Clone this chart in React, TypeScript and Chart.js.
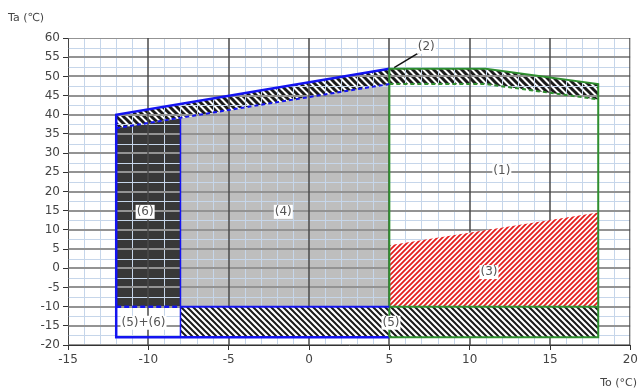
import { useEffect, useRef } from "react";
import { Chart, registerables } from "chart.js";

Chart.register(...registerables);

// Axis ranges / ticks
const xMin = -15, xMax = 20, xStep = 5, xMinorStep = 1;
const yMin = -20, yMax = 60, yStep = 5, yMinorStep = 2.5;

// Upper boundary (solid) and lower dashed boundary of zone (2)
const topX = [-12, 5, 11, 18];
const topY = [40, 52, 52, 48];
const lowX = [-12, 5, 11, 18];
const lowY = [36.5, 48, 48, 44];

// Zone (6): dark area
const zone6X = [-12, -12, -8, -8];
const zone6Y = [-10, 36.5, 39, -10];
// Zone (4): grey area
const zone4X = [-8, -8, 5, 5];
const zone4Y = [-10, 39, 48, -10];
// Zone (3): red hatched
const zone3X = [5, 5, 18, 18];
const zone3Y = [-10, 6, 14.5, -10];
// Zone (5): black hatched bottom band
const zone5X = [-8, -8, 18, 18];
const zone5Y = [-18, -10, -10, -18];

// Outlines
const blueOutlineX = [5, -12, -12, 5];
const blueOutlineY = [52, 40, -18, -18];
const blueMidX = [-8, 5];
const blueMidY = [-10, -10];
const blueDashBoxX = [-12, -8];
const blueDashBoxY = [-10, -10];
const blueVertX = [-8, -8];
const blueVertY = [-18, 39];
const greenOutlineX = [5, 5, 11, 18, 18, 5];
const greenOutlineY = [-18, 52, 52, 48, -18, -18];
const greenMidX = [5, 18];
const greenMidY = [-10, -10];
const arrowX = [6.9, 5.3];
const arrowY = [56.3, 52.3];

// Zone labels
const labelText = ["(1)", "(2)", "(3)", "(4)", "(6)", "(5)+(6)", "(5)"];
const labelX = [12, 7.3, 11.2, -1.6, -10.2, -10.3, 5.1];
const labelY = [25.5, 57.7, -1, 14.7, 14.7, -14.2, -14.2];

const zip = (xs: number[], ys: number[]) => xs.map((x, i) => ({ x, y: ys[i] }));

function hatch(fg: string, bg: string, size: number, lw: number, dir: "\\" | "/") {
  const c = document.createElement("canvas");
  c.width = size;
  c.height = size;
  const g = c.getContext("2d")!;
  g.fillStyle = bg;
  g.fillRect(0, 0, size, size);
  g.strokeStyle = fg;
  g.lineWidth = lw;
  g.beginPath();
  for (let k = -1; k <= 1; k++) {
    if (dir === "\\") {
      g.moveTo(k * size - 1, -1);
      g.lineTo(k * size + size + 1, size + 1);
    } else {
      g.moveTo(k * size - 1, size + 1);
      g.lineTo(k * size + size + 1, -1);
    }
  }
  g.stroke();
  return g.createPattern(c, "repeat")!;
}

function drawGrid(chart: any) {
  const { ctx, chartArea: a, scales } = chart;
  const xs = scales.x, ys = scales.y;
  ctx.save();
  ctx.beginPath();
  ctx.rect(a.left, a.top, a.right - a.left, a.bottom - a.top);
  ctx.clip();
  // minor
  ctx.strokeStyle = "#c6d6ea";
  ctx.lineWidth = 1;
  ctx.beginPath();
  for (let v = xMin; v <= xMax + 1e-9; v += xMinorStep) {
    if (Math.abs(v % xStep) < 1e-9) continue;
    const p = Math.round(xs.getPixelForValue(v)) + 0.5;
    ctx.moveTo(p, a.top);
    ctx.lineTo(p, a.bottom);
  }
  for (let v = yMin; v <= yMax + 1e-9; v += yMinorStep) {
    if (Math.abs(v % yStep) < 1e-9) continue;
    const p = Math.round(ys.getPixelForValue(v)) + 0.5;
    ctx.moveTo(a.left, p);
    ctx.lineTo(a.right, p);
  }
  ctx.stroke();
  // major horizontal
  ctx.strokeStyle = "#939393";
  ctx.lineWidth = 2;
  ctx.beginPath();
  for (let v = yMin; v <= yMax + 1e-9; v += yStep) {
    const p = Math.round(ys.getPixelForValue(v));
    ctx.moveTo(a.left, p);
    ctx.lineTo(a.right, p);
  }
  ctx.stroke();
  // major vertical
  ctx.strokeStyle = "#4a4a4a";
  ctx.lineWidth = 1.5;
  ctx.beginPath();
  for (let v = xMin; v <= xMax + 1e-9; v += xStep) {
    const p = Math.round(xs.getPixelForValue(v));
    ctx.moveTo(p, a.top);
    ctx.lineTo(p, a.bottom);
  }
  ctx.stroke();
  ctx.restore();
}

const gridPlugin = {
  id: "customGrid",
  beforeDatasetsDraw(chart: any) {
    chart.$gridDone = false;
  },
  beforeDatasetDraw(chart: any, args: any) {
    const ds: any = chart.data.datasets[args.index];
    if (ds.overGrid && !chart.$gridDone) {
      drawGrid(chart);
      chart.$gridDone = true;
    }
  },
  afterDatasetsDraw(chart: any) {
    if (!chart.$gridDone) drawGrid(chart);
  },
  afterDraw(chart: any) {
    const { ctx, scales } = chart;
    ctx.save();
    ctx.font = "12px 'DejaVu Sans', sans-serif";
    ctx.textAlign = "center";
    ctx.textBaseline = "middle";
    labelText.forEach((t, i) => {
      const px = scales.x.getPixelForValue(labelX[i]);
      const py = scales.y.getPixelForValue(labelY[i]);
      const w = ctx.measureText(t).width;
      ctx.fillStyle = "#ffffff";
      ctx.fillRect(px - w / 2 - 1, py - 7, w + 2, 14);
      ctx.fillStyle = "#555555";
      ctx.fillText(t, px, py);
    });
    ctx.font = "11px 'DejaVu Sans', sans-serif";
    ctx.fillStyle = "#444444";
    ctx.textAlign = "left";
    ctx.textBaseline = "alphabetic";
    ctx.fillText("Ta (℃)", 8, 21);
    ctx.textAlign = "right";
    ctx.fillText("To (°C)", 637, 386);
    ctx.restore();
  },
};

export default function App() {
  const ref = useRef<HTMLCanvasElement>(null);
  useEffect(() => {
    document.body.style.margin = "0";
    const canvas = ref.current!;
    const band = hatch("#1a1a1a", "#ffffff", 7, 3, "\\");
    const h5 = hatch("#1a1a1a", "#ffffff", 6, 2, "\\");
    const red = hatch("#e41e1e", "#ffffff", 5, 1.8, "/");
    const band2 = [...zip(topX, topY), ...zip(lowX, lowY).reverse()];
    const fillDs = (data: any[], bg: any, overGrid: boolean, order: number) => ({
      data,
      backgroundColor: bg,
      borderWidth: 0,
      borderColor: "rgba(0,0,0,0)",
      fill: "shape",
      showLine: true,
      pointRadius: 0,
      order,
      overGrid,
    });
    const lineDs = (data: any[], color: string, width: number, dash: number[] = []) => ({
      data,
      borderColor: color,
      borderWidth: width,
      borderDash: dash,
      fill: false,
      showLine: true,
      pointRadius: 0,
      order: 1,
      overGrid: true,
    });
    const blue = "#1414f0";
    const green = "#2f8f2f";
    const chart = new Chart(canvas, {
      type: "scatter",
      data: {
        datasets: [
          fillDs(zip(zone6X, zone6Y), "#383838", false, 3),
          fillDs(zip(zone4X, zone4Y), "#bebebe", false, 3),
          fillDs(zip(zone3X, zone3Y), red, true, 2),
          fillDs(zip(zone5X, zone5Y), h5, true, 2),
          fillDs(band2, band, true, 2),
          lineDs(zip(lowX.slice(0, 2), lowY.slice(0, 2)), blue, 2, [4, 3]),
          lineDs(zip(lowX.slice(1), lowY.slice(1)), green, 2, [4, 3]),
          lineDs(zip(blueVertX, blueVertY), blue, 1.5),
          lineDs(zip(blueDashBoxX, blueDashBoxY), blue, 2.5, [5, 3]),
          lineDs(zip(blueMidX, blueMidY), blue, 2),
          lineDs(zip(greenMidX, greenMidY), green, 2),
          lineDs(zip(greenOutlineX, greenOutlineY), green, 2),
          lineDs(zip(blueOutlineX, blueOutlineY), blue, 2.5),
          lineDs(zip(arrowX, arrowY), "#111111", 1.5),
        ] as any,
      },
      options: {
        responsive: false,
        animation: false,
        devicePixelRatio: 1,
        layout: { padding: { top: 38, right: 10, left: 0, bottom: 0 } },
        plugins: { legend: { display: false }, tooltip: { enabled: false } },
        scales: {
          x: {
            type: "linear",
            min: xMin,
            max: xMax,
            afterFit: (s: any) => {
              s.height = 46;
            },
            ticks: {
              stepSize: xStep,
              color: "#444444",
              font: { family: "'DejaVu Sans', sans-serif", size: 12 },
              padding: 3,
            },
            grid: { drawOnChartArea: false, drawTicks: true, tickLength: 5, color: "#333333" },
            border: { color: "#333333", width: 1 },
          },
          y: {
            type: "linear",
            min: yMin,
            max: yMax,
            afterFit: (s: any) => {
              s.width = 68;
            },
            ticks: {
              stepSize: yStep,
              color: "#444444",
              font: { family: "'DejaVu Sans', sans-serif", size: 12 },
              padding: 3,
            },
            grid: { drawOnChartArea: false, drawTicks: true, tickLength: 5, color: "#333333" },
            border: { color: "#333333", width: 1 },
          },
        },
      } as any,
      plugins: [gridPlugin],
    });
    return () => chart.destroy();
  }, []);
  return (
    <div style={{ width: 641, height: 391 }}>
      <canvas ref={ref} width={641} height={391} style={{ display: "block" }} />
    </div>
  );
}
